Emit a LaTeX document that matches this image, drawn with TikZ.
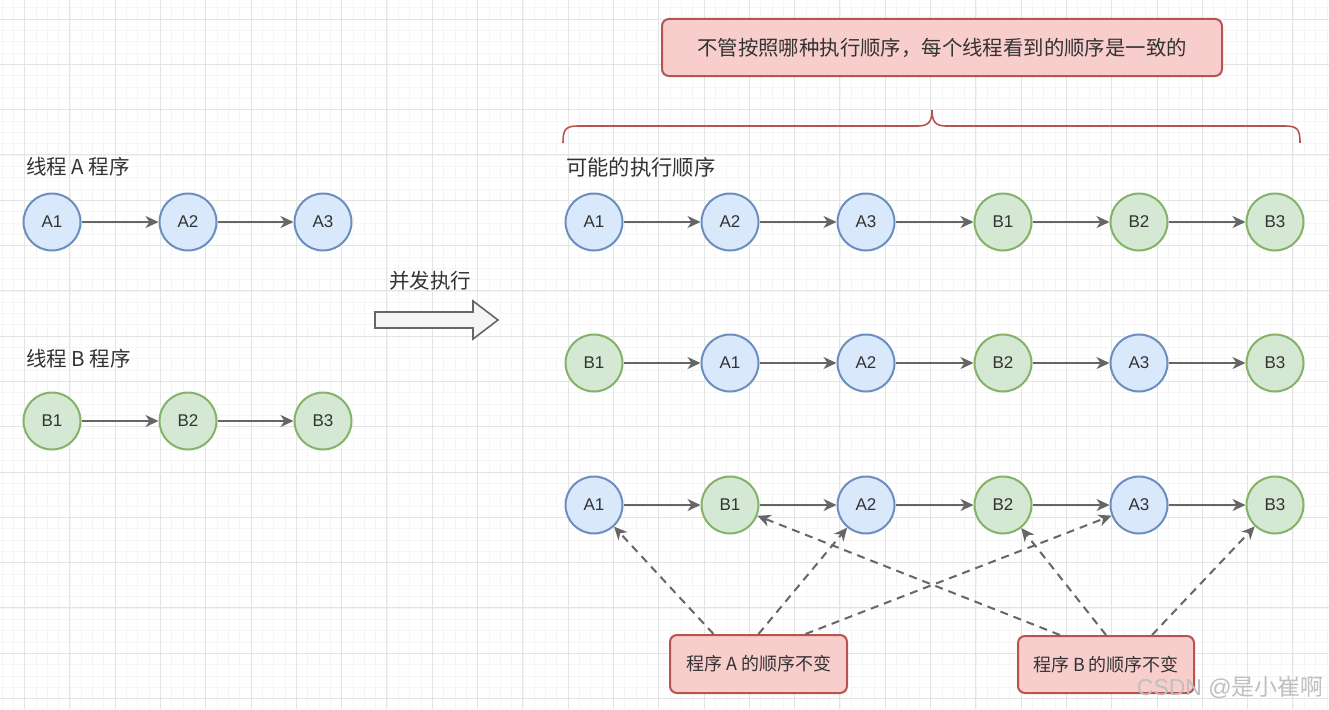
\documentclass[tikz,border=0pt]{standalone}
\usepackage{fontspec}
\setmainfont{Liberation Sans}
\newfontfamily\cjk{Noto Sans CJK SC}
\usetikzlibrary{arrows.meta,calc}
\definecolor{bfill}{HTML}{DAE8FC}
\definecolor{bdraw}{HTML}{6C8EBF}
\definecolor{gfill}{HTML}{D5E8D4}
\definecolor{gdraw}{HTML}{82B366}
\definecolor{rfill}{HTML}{F8CECC}
\definecolor{rdraw}{HTML}{B85450}
\definecolor{lnk}{HTML}{666666}
\definecolor{txt}{HTML}{333333}
\definecolor{gmaj}{HTML}{E4E4E4}
\definecolor{gmin}{HTML}{F5F5F5}
\definecolor{afill}{HTML}{F5F5F5}
\begin{document}
\begin{tikzpicture}[x=1pt,y=-1pt,
  circ/.style={circle,draw,line width=2pt,minimum size=57pt,inner sep=0pt,font=\fontsize{17}{17}\selectfont,text=txt},
  an/.style={circ,fill=bfill,draw=bdraw},
  bn/.style={circ,fill=gfill,draw=gdraw},
  flow/.style={draw=lnk,line width=2pt,-{Stealth[length=13pt,width=12pt,inset=4pt]}},
  hint/.style={flow,dash pattern=on 8pt off 6pt},
  note/.style={draw=rdraw,fill=rfill,line width=2pt,rounded corners=7pt,font=\cjk\fontsize{18}{18}\selectfont,text=txt,inner sep=0pt},
  title/.style={font=\cjk\fontsize{20.5}{20.5}\selectfont,text=txt,anchor=west,inner sep=0pt}]
\useasboundingbox (0,0) rectangle (1329,709);
\fill[white] (0,0) rectangle (1329,709);
% grid
\foreach \i in {-2,...,115} \draw[gmin,line width=0.6pt] (24.5+\i*11.325,0) -- ++(0,709);
\foreach \j in {-1,...,61} \draw[gmin,line width=0.6pt] (0,19+\j*11.325) -- ++(1329,0);
\foreach \i in {0,...,28} \draw[gmaj,line width=0.9pt] (24.5+\i*45.3,0) -- ++(0,709);
\foreach \j in {0,...,15} \draw[gmaj,line width=0.9pt] (0,19+\j*45.3) -- ++(1329,0);

% left side
\node[title] (ta) at (26,167) {线程 A 程序};
\node[title] (tb) at (26,359) {线程 B 程序};
\node[an] (la1) at (52,222) {A1};
\node[an] (la2) at (188,222) {A2};
\node[an] (la3) at (323,222) {A3};
\node[bn] (lb1) at (52,421) {B1};
\node[bn] (lb2) at (188,421) {B2};
\node[bn] (lb3) at (323,421) {B3};
\draw[flow] (la1) -- (la2);
\draw[flow] (la2) -- (la3);
\draw[flow] (lb1) -- (lb2);
\draw[flow] (lb2) -- (lb3);

% big arrow
\node[title,anchor=center] (conc) at (430,281) {并发执行};
\draw[draw=lnk,fill=afill,line width=1.6pt,line join=miter] (375,312) -- (473,312) -- (473,301) -- (498,320) -- (473,339) -- (473,328) -- (375,328) -- cycle;

% top note and brace
\node[note,minimum width=560pt,minimum height=57pt,font=\cjk\fontsize{20.4}{20.4}\selectfont] (top) at (942,47.5) {不管按照哪种执行顺序，每个线程看到的顺序是一致的};
\draw[rdraw,line width=1.6pt] (563,143) .. controls (563,130) and (565,126) .. (578,126) -- (918,126) .. controls (929,126) and (932,121) .. (932,110);
\draw[rdraw,line width=1.6pt] (1300,143) .. controls (1300,130) and (1298,126) .. (1285,126) -- (946,126) .. controls (935,126) and (932,121) .. (932,110);
\node[title,font=\cjk\fontsize{21.3}{21.3}\selectfont] (tr) at (566,167) {可能的执行顺序};

% row 1
\node[an] (p1) at (594,222) {A1};
\node[an] (p2) at (730,222) {A2};
\node[an] (p3) at (866,222) {A3};
\node[bn] (p4) at (1003,222) {B1};
\node[bn] (p5) at (1139,222) {B2};
\node[bn] (p6) at (1275,222) {B3};
% row 2
\node[bn] (q1) at (594,363) {B1};
\node[an] (q2) at (730,363) {A1};
\node[an] (q3) at (866,363) {A2};
\node[bn] (q4) at (1003,363) {B2};
\node[an] (q5) at (1139,363) {A3};
\node[bn] (q6) at (1275,363) {B3};
% row 3
\node[an] (r1) at (594,505) {A1};
\node[bn] (r2) at (730,505) {B1};
\node[an] (r3) at (866,505) {A2};
\node[bn] (r4) at (1003,505) {B2};
\node[an] (r5) at (1139,505) {A3};
\node[bn] (r6) at (1275,505) {B3};
\foreach \r in {p,q,r}{
  \draw[flow] (\r1) -- (\r2);
  \draw[flow] (\r2) -- (\r3);
  \draw[flow] (\r3) -- (\r4);
  \draw[flow] (\r4) -- (\r5);
  \draw[flow] (\r5) -- (\r6);
}

% bottom notes
\node[note,minimum width=177pt,minimum height=58pt] (na) at (758.5,664) {程序 A 的顺序不变};
\node[note,minimum width=176pt,minimum height=57pt] (nb) at (1106,664.5) {程序 B 的顺序不变};
\draw[hint] ($(na.north)+(-45,0)$) -- (r1);
\draw[hint] (na.north) -- (r3);
\draw[hint] ($(na.north)+(47,0)$) -- (r5);
\draw[hint] ($(nb.north)+(-46,0)$) -- (r2);
\draw[hint] (nb.north) -- (r4);
\draw[hint] ($(nb.north)+(46,0)$) -- (r6);

% watermark
\node[anchor=east,inner sep=0pt,text=gray!50,font=\fontsize{23}{23}\selectfont] (wm) at (1324,687) {CSDN @{\cjk 是小崔啊}};
\end{tikzpicture}
\end{document}
